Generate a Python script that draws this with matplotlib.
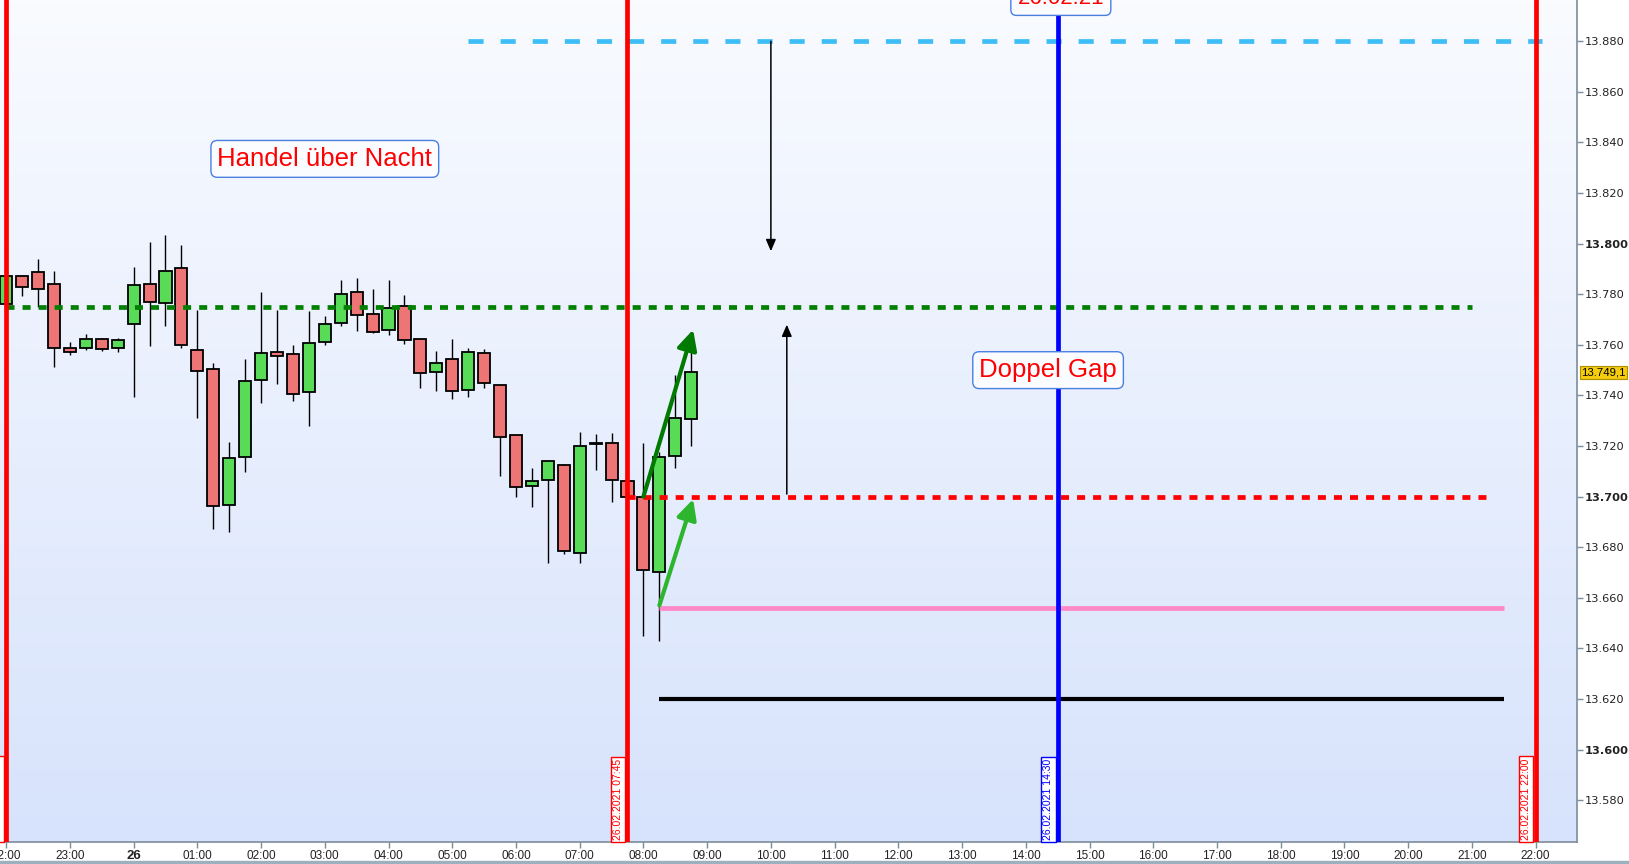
"""
Intraday chart 25./26.02.2021, 15 minute candles with gap levels
"""

import matplotlib
matplotlib.use('Agg')
import matplotlib.pyplot as plt
import matplotlib.colors as mcolors
import matplotlib.transforms as mtransforms
import numpy as np

plt.rcParams['font.family'] = ['Liberation Sans', 'DejaVu Sans']

# 15 minute candles, 25.02.2021 22:00 .. 26.02.2021 08:45
candle_times = [
    '22:00', '22:15', '22:30', '22:45', '23:00', '23:15', '23:30', '23:45',
    '00:00', '00:15', '00:30', '00:45', '01:00', '01:15', '01:30', '01:45',
    '02:00', '02:15', '02:30', '02:45', '03:00', '03:15', '03:30', '03:45',
    '04:00', '04:15', '04:30', '04:45', '05:00', '05:15', '05:30', '05:45',
    '06:00', '06:15', '06:30', '06:45', '07:00', '07:15', '07:30', '07:45',
    '08:00', '08:15', '08:30', '08:45',
]
opens = [
    13776.1, 13787.1, 13788.7, 13784.0, 13758.7, 13758.7, 13762.2, 13758.7,
    13768.1, 13784.0, 13776.5, 13790.3, 13757.9, 13750.4, 13696.6, 13715.6,
    13746.0, 13757.1, 13756.3, 13741.3, 13761.0, 13768.5, 13780.8, 13772.1,
    13765.8, 13775.3, 13762.2, 13749.1, 13754.6, 13742.0, 13756.6, 13744.0,
    13724.2, 13704.4, 13706.4, 13712.7, 13677.9, 13720.9, 13721.4, 13706.0,
    13699.7, 13670.4, 13715.9, 13730.5,
]
highs = [
    13788.0, 13787.7, 13794.0, 13789.2, 13761.2, 13764.3, 13762.7, 13762.7,
    13790.8, 13800.7, 13803.5, 13799.5, 13773.8, 13752.7, 13721.6, 13754.4,
    13780.9, 13773.8, 13760.0, 13773.4, 13771.3, 13785.7, 13786.5, 13782.1,
    13785.7, 13779.7, 13762.2, 13757.5, 13762.5, 13758.6, 13758.2, 13744.0,
    13724.2, 13711.3, 13713.9, 13713.1, 13725.5, 13724.7, 13725.1, 13706.0,
    13721.2, 13717.5, 13747.9, 13759.2,
]
lows = [
    13775.0, 13779.5, 13775.1, 13751.4, 13755.8, 13758.1, 13757.7, 13757.3,
    13739.5, 13759.7, 13767.6, 13758.9, 13730.9, 13687.4, 13686.2, 13709.9,
    13737.2, 13744.7, 13738.0, 13728.1, 13760.1, 13767.6, 13765.6, 13764.5,
    13763.7, 13760.5, 13743.0, 13741.8, 13738.4, 13739.5, 13743.0, 13708.2,
    13699.9, 13696.0, 13673.8, 13677.4, 13673.8, 13710.6, 13698.0, 13699.7,
    13645.0, 13642.9, 13711.4, 13720.1,
]
closes = [
    13787.1, 13782.8, 13782.0, 13758.7, 13757.1, 13762.2, 13758.3, 13761.8,
    13783.6, 13776.8, 13789.1, 13759.8, 13749.6, 13696.2, 13715.2, 13745.6,
    13756.7, 13755.5, 13740.5, 13760.6, 13768.1, 13780.0, 13771.7, 13765.0,
    13774.5, 13761.8, 13748.8, 13752.7, 13741.6, 13757.0, 13744.8, 13723.4,
    13704.0, 13706.0, 13713.9, 13678.7, 13720.2, 13720.9, 13706.4, 13699.7,
    13671.2, 13715.5, 13730.9, 13749.1,
]
last_price = 13749.1

# horizontal levels: value, from, to (hours since 25.02 00:00)
level_values = [13880, 13775, 13700, 13656, 13620]
level_start = [29.25, 22.0, 31.75, 32.25, 32.25]
level_end = [46.1, 45.0, 45.25, 45.5, 45.5]
level_colors = ['#3DBEF6', '#008000', '#FF0000', '#FF88C8', '#000000']
level_dashes = [(3.2, 3.6), (1.7, 1.7), (1.7, 1.7), None, None]
level_widths = [3.4, 3.4, 3.4, 3.4, 3.0]

# vertical time markers
marker_hours = [22.0, 31.75, 38.5, 46.0]
marker_colors = ['#FF0000', '#FF0000', '#0000FF', '#FF0000']
marker_labels = ['25.02.2021 22:00', '26.02.2021 07:45',
                 '26.02.2021 14:30', '26.02.2021 22:00']

# arrows: (x_from, y_from, x_to, y_to)
black_arrows = [(34.0, 13880, 34.0, 13797), (34.25, 13701, 34.25, 13768)]
green_arrows = [(32.0, 13700, 32.78, 13766), (32.25, 13657, 32.78, 13699)]
green_arrow_colors = ['#007A00', '#2DB52D']

notes = ['Handel über Nacht', 'Doppel Gap', '26.02.21']
note_pos = [(27.0, 13833.5), (38.35, 13750.0), (38.55, 13897.0)]
note_size = [18.5, 18.5, 16]
note_pad = [0.25, 0.25, 0.3]

y_ticks = [13580, 13600, 13620, 13640, 13660, 13680, 13700, 13720,
           13740, 13760, 13780, 13800, 13820, 13840, 13860, 13880]
x_ticks = list(range(22, 47))
x_tick_labels = ['22:00', '23:00', '26'] + ['%02d:00' % h for h in range(1, 23)]

X_LIM = (21.903, 46.65)
Y_LIM = (13563.5, 13896.3)


def to_hours(label):
  hh, mm = label.split(':')
  h = int(hh) + int(mm) / 60.0
  if h < 12:
    h += 24
  return h


fig = plt.figure(figsize=(16.29, 8.64), dpi=100)
fig.patch.set_facecolor('white')
ax = fig.add_axes([0.0, 22 / 864, 1577 / 1629, 842 / 864])

# gradient background
cmap = mcolors.LinearSegmentedColormap.from_list('bg', ['#F9FBFF', '#D7E3FC'])
ax.imshow(np.linspace(0, 1, 256).reshape(-1, 1), cmap=cmap, aspect='auto',
          extent=[X_LIM[0], X_LIM[1], Y_LIM[0], Y_LIM[1]], origin='upper',
          zorder=0)

# candles
x = np.array([to_hours(t) for t in candle_times])
o = np.array(opens)
c = np.array(closes)
ax.vlines(x, lows, highs, color='black', lw=1.0, zorder=3)
body_colors = []
for oo, cc in zip(o, c):
  if cc > oo:
    body_colors.append('#58DC58')
  elif cc < oo:
    body_colors.append('#EE7575')
  else:
    body_colors.append('black')
heights = np.where(np.abs(c - o) < 0.3, 0.3, np.abs(c - o))
ax.bar(x, heights, bottom=np.minimum(o, c), width=0.19, color=body_colors,
       edgecolor='black', linewidth=1.3, zorder=4)

# levels
for val, x0, x1, col, dsh, lw in zip(level_values, level_start, level_end,
                                     level_colors, level_dashes, level_widths):
  line, = ax.plot([x0, x1], [val, val], color=col, lw=lw, zorder=5,
                  solid_capstyle='butt')
  if dsh is not None:
    line.set_dashes(dsh)

# vertical markers
for h, col, lab in zip(marker_hours, marker_colors, marker_labels):
  ax.axvline(h, color=col, lw=3.4, zorder=6)
  ax.annotate(lab, xy=(h, Y_LIM[0]), xytext=(-3, 1.5),
              textcoords='offset points', rotation=90, ha='right',
              va='bottom', fontsize=7.5, color=col, zorder=7,
              bbox=dict(boxstyle='square,pad=0.2', fc='white', ec=col,
                        lw=1.0))

# arrows
for x0, y0, x1, y1 in black_arrows:
  ax.annotate('', xy=(x1, y1), xytext=(x0, y0), zorder=8,
              arrowprops=dict(arrowstyle='-|>,head_length=0.7,head_width=0.3',
                              color='black', lw=1.1, mutation_scale=10,
                              shrinkA=0, shrinkB=0))
for (x0, y0, x1, y1), col in zip(green_arrows, green_arrow_colors):
  ax.annotate('', xy=(x1, y1), xytext=(x0, y0), zorder=8,
              arrowprops=dict(arrowstyle='-|>,head_length=0.6,head_width=0.3',
                              color=col, lw=3.0, mutation_scale=20,
                              shrinkA=0, shrinkB=0))

# text notes
for txt, (nx, ny), fs, pd in zip(notes, note_pos, note_size, note_pad):
  ax.text(nx, ny, txt, color='#FF0000', fontsize=fs, ha='center',
          va='center', zorder=9,
          bbox=dict(boxstyle='round,pad=%s,rounding_size=0.25' % pd,
                    fc='#FAFCFF', ec='#4A7FE0', lw=1.0))

ax.set_xlim(*X_LIM)
ax.set_ylim(*Y_LIM)

# axes styling
for side in ['top', 'left']:
  ax.spines[side].set_visible(False)
for side in ['right', 'bottom']:
  ax.spines[side].set_color('#7D8C99')
  ax.spines[side].set_linewidth(1.2)

ax.yaxis.tick_right()
ax.set_yticks(y_ticks)
ax.set_yticklabels(['{:,}'.format(v).replace(',', '.') for v in y_ticks])
ax.tick_params(axis='y', direction='out', length=4, width=1, color='#7D8C99',
               labelsize=8.2, pad=1.5, labelcolor='#222222')
for lab, v in zip(ax.get_yticklabels(), y_ticks):
  lab.set_family('DejaVu Sans')
  if v % 100 == 0:
    lab.set_fontweight('bold')

ax.set_xticks(x_ticks)
ax.set_xticklabels(x_tick_labels)
ax.tick_params(axis='x', direction='out', length=4, width=1, color='#7D8C99',
               labelsize=8.5, pad=2, labelcolor='#222222')
for lab, t in zip(ax.get_xticklabels(), x_tick_labels):
  if t == '26':
    lab.set_fontweight('bold')
    lab.set_fontsize(9.5)

# last price tag
trans = mtransforms.blended_transform_factory(ax.transAxes, ax.transData)
ax.annotate('{:,.1f}'.format(last_price).replace(',', ' ').replace('.', ',')
            .replace(' ', '.'),
            xy=(1.0, last_price), xycoords=trans, xytext=(3, 0),
            textcoords='offset points', ha='left', va='center', fontsize=8.2,
            color='black', annotation_clip=False,
            bbox=dict(boxstyle='square,pad=0.12', fc='#F4CC10', ec='#B09000',
                      lw=0.8))

# bottom strip of the window
fig.patches.append(plt.Rectangle((0, 0), 1, 3 / 864, transform=fig.transFigure,
                                 color='#9BB1BD', zorder=0))

fig.savefig('out.png', dpi=100)
